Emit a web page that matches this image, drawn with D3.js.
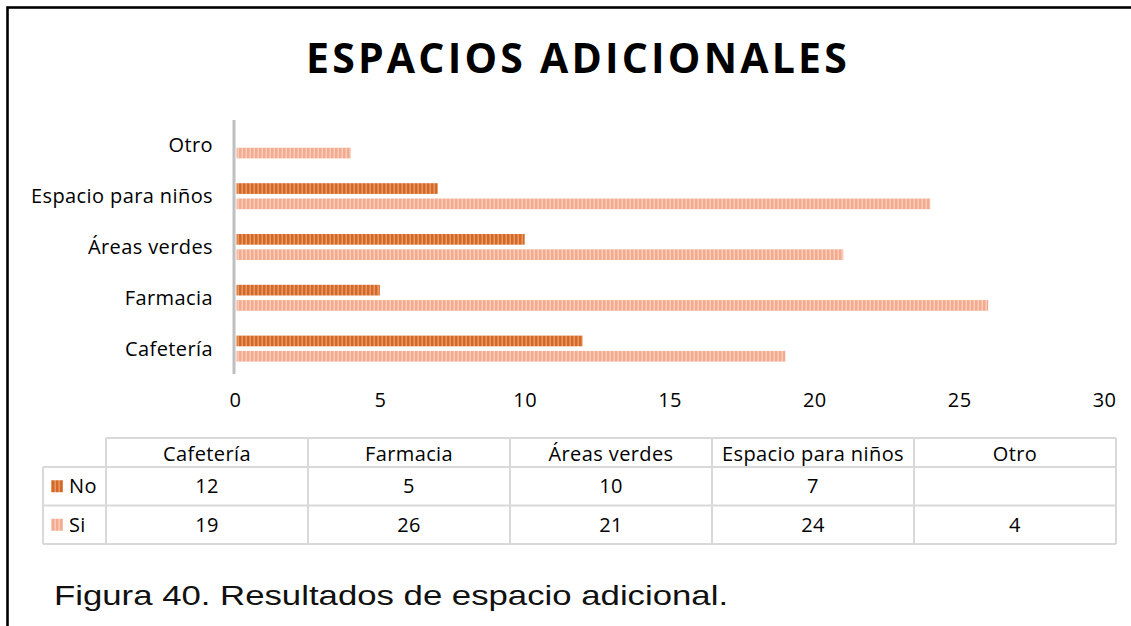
<!DOCTYPE html>
<html>
<head>
<meta charset="utf-8">
<script src="https://cdn.jsdelivr.net/npm/d3@7"></script>
<style>
  body { margin: 0; background: #fff; }
  svg { display: block; }
</style>
</head>
<body>
<div id="chart"></div>
<script>
'use strict';

// data
var categories = ["Cafetería", "Farmacia", "Áreas verdes", "Espacio para niños", "Otro"];
var seriesNames = ["No", "Si"];
var noValues = [12, 5, 10, 7, null];
var siValues = [19, 26, 21, 24, 4];
var xTicks = [0, 5, 10, 15, 20, 25, 30];

var W = 1131, H = 626;
var labelFont = "'Open Sans', sans-serif";
var labelSize = "20px";
var labelSpacing = "0.4px";

var colors = {
  No: {dark: "#d2692b", light: "#e8975f"},
  Si: {dark: "#f3aa8e", light: "#f9ccb9"}
};

var svg = d3.select("#chart").append("svg")
  .attr("width", W)
  .attr("height", H);

// stripe patterns
var defs = svg.append("defs");
seriesNames.forEach(function(s){
  var p = defs.append("pattern")
    .attr("id", "pat-" + s)
    .attr("patternUnits", "userSpaceOnUse")
    .attr("width", 4)
    .attr("height", 4);
  p.append("rect").attr("width", 4).attr("height", 4).attr("fill", colors[s].light);
  p.append("rect").attr("width", 2.4).attr("height", 4).attr("fill", colors[s].dark);
});

function labelStyle(sel){
  sel.style("font-family", labelFont)
    .style("font-size", labelSize)
    .style("letter-spacing", labelSpacing)
    .style("fill", "#000");
}

// outer frame (only left & top show in the crop)
svg.append("rect")
  .attr("x", 7.5).attr("y", 7.5)
  .attr("width", W + 20).attr("height", H + 20)
  .attr("fill", "none")
  .attr("stroke", "#000")
  .attr("stroke-width", 2.6);

// title
svg.append("text")
  .attr("x", 578)
  .attr("y", 73)
  .attr("text-anchor", "middle")
  .style("font-family", "'Open Sans', sans-serif")
  .style("font-weight", "bold")
  .style("font-size", "41px")
  .style("letter-spacing", "3.2px")
  .text("ESPACIOS ADICIONALES");

var margin = {top: 120, left: 235};

var x = d3.scaleLinear().domain([0, 30]).range([0, 869]);
var y = d3.scaleBand().domain(categories.slice().reverse()).range([0, 254]);
var inner = d3.scaleBand().domain(seriesNames).range([y.bandwidth()/2 - 13, y.bandwidth()/2 + 13]).paddingInner(0.3);

var g = svg.append("g")
  .attr("transform", "translate(" + margin.left + "," + margin.top + ")");

var rows = categories.map(function(c, i){
  return {cat: c, No: noValues[i], Si: siValues[i]};
});

var catG = g.selectAll("g.cat")
  .data(rows)
  .enter().append("g")
  .attr("class", "cat")
  .attr("transform", function(d){ return "translate(0," + y(d.cat) + ")"; });

catG.selectAll("rect")
  .data(function(d){ return seriesNames.map(function(s){ return {s: s, v: d[s]}; }).filter(function(e){ return e.v != null; }); })
  .enter().append("rect")
  .attr("x", x(0) + 1.5)
  .attr("y", function(d){ return inner(d.s); })
  .attr("width", function(d){ return x(d.v) - x(0) - 1.5; })
  .attr("height", inner.bandwidth())
  .attr("fill", function(d){ return "url(#pat-" + d.s + ")"; });

// category labels
catG.append("text")
  .attr("x", -22)
  .attr("y", y.bandwidth()/2)
  .attr("dy", "0.35em")
  .attr("text-anchor", "end")
  .call(labelStyle)
  .text(function(d){ return d.cat; });

// vertical axis line
g.append("line")
  .attr("x1", x(0) - 1).attr("x2", x(0) - 1)
  .attr("y1", 0).attr("y2", 254)
  .attr("stroke", "#bfbfbf")
  .attr("stroke-width", 3);

// x axis labels (no line)
var xAxis = d3.axisBottom(x).tickValues(xTicks).tickSize(0).tickPadding(0);
var ax = g.append("g")
  .attr("transform", "translate(0,273)")
  .call(xAxis);
ax.select(".domain").remove();
ax.selectAll("text").call(labelStyle);

// data table
var tbl = {left: 43, colStart: 106, colW: 202, top: 438, hdrH: 29, rowH: 38.5};
var tcol = d3.scaleBand().domain(categories).range([tbl.colStart, tbl.colStart + tbl.colW * categories.length]);
var trow = d3.scaleBand().domain(seriesNames).range([tbl.top + tbl.hdrH, tbl.top + tbl.hdrH + tbl.rowH * 2]);
var tableG = svg.append("g");
var gridColor = "#d9d9d9";
var tBottom = trow.range()[1];
var tRight = tcol.range()[1];

// horizontal lines
tableG.append("line").attr("x1", tbl.colStart).attr("x2", tRight).attr("y1", tbl.top).attr("y2", tbl.top);
[trow("No"), trow("Si"), tBottom].forEach(function(yy){
  tableG.append("line").attr("x1", tbl.left).attr("x2", tRight).attr("y1", yy).attr("y2", yy);
});
// vertical lines
tableG.append("line").attr("x1", tbl.left).attr("x2", tbl.left).attr("y1", trow("No")).attr("y2", tBottom);
categories.concat([null]).forEach(function(c){
  var xx = c == null ? tRight : tcol(c);
  tableG.append("line").attr("x1", xx).attr("x2", xx).attr("y1", tbl.top).attr("y2", tBottom);
});
tableG.selectAll("line").attr("stroke", gridColor).attr("stroke-width", 2);

// header text
tableG.selectAll("text.hdr")
  .data(categories)
  .enter().append("text")
  .attr("class", "hdr")
  .attr("x", function(d){ return tcol(d) + tcol.bandwidth()/2; })
  .attr("y", tbl.top + tbl.hdrH/2 + 1)
  .attr("dy", "0.35em")
  .attr("text-anchor", "middle")
  .call(labelStyle)
  .text(function(d){ return d; });

// series rows
seriesNames.forEach(function(s){
  var vals = s === "No" ? noValues : siValues;
  var cy = trow(s) + trow.bandwidth()/2;
  tableG.append("rect")
    .attr("x", 51).attr("y", cy - 6)
    .attr("width", 12).attr("height", 12)
    .attr("fill", "url(#pat-" + s + ")");
  tableG.append("text")
    .attr("x", 69).attr("y", cy)
    .attr("dy", "0.35em")
    .call(labelStyle)
    .text(s);
  tableG.selectAll("text.v" + s)
    .data(categories.map(function(c, i){ return {c: c, v: vals[i]}; }).filter(function(d){ return d.v != null; }))
    .enter().append("text")
    .attr("x", function(d){ return tcol(d.c) + tcol.bandwidth()/2; })
    .attr("y", cy)
    .attr("dy", "0.35em")
    .attr("text-anchor", "middle")
    .call(labelStyle)
    .text(function(d){ return d.v; });
});

// caption (stretched horizontally like the source)
svg.append("text")
  .attr("transform", "translate(54,605) scale(1.22,1)")
  .style("font-family", "'Liberation Sans', Arial, sans-serif")
  .style("font-size", "28.5px")
  .style("fill", "#111")
  .text("Figura 40. Resultados de espacio adicional.");
</script>
</body>
</html>
